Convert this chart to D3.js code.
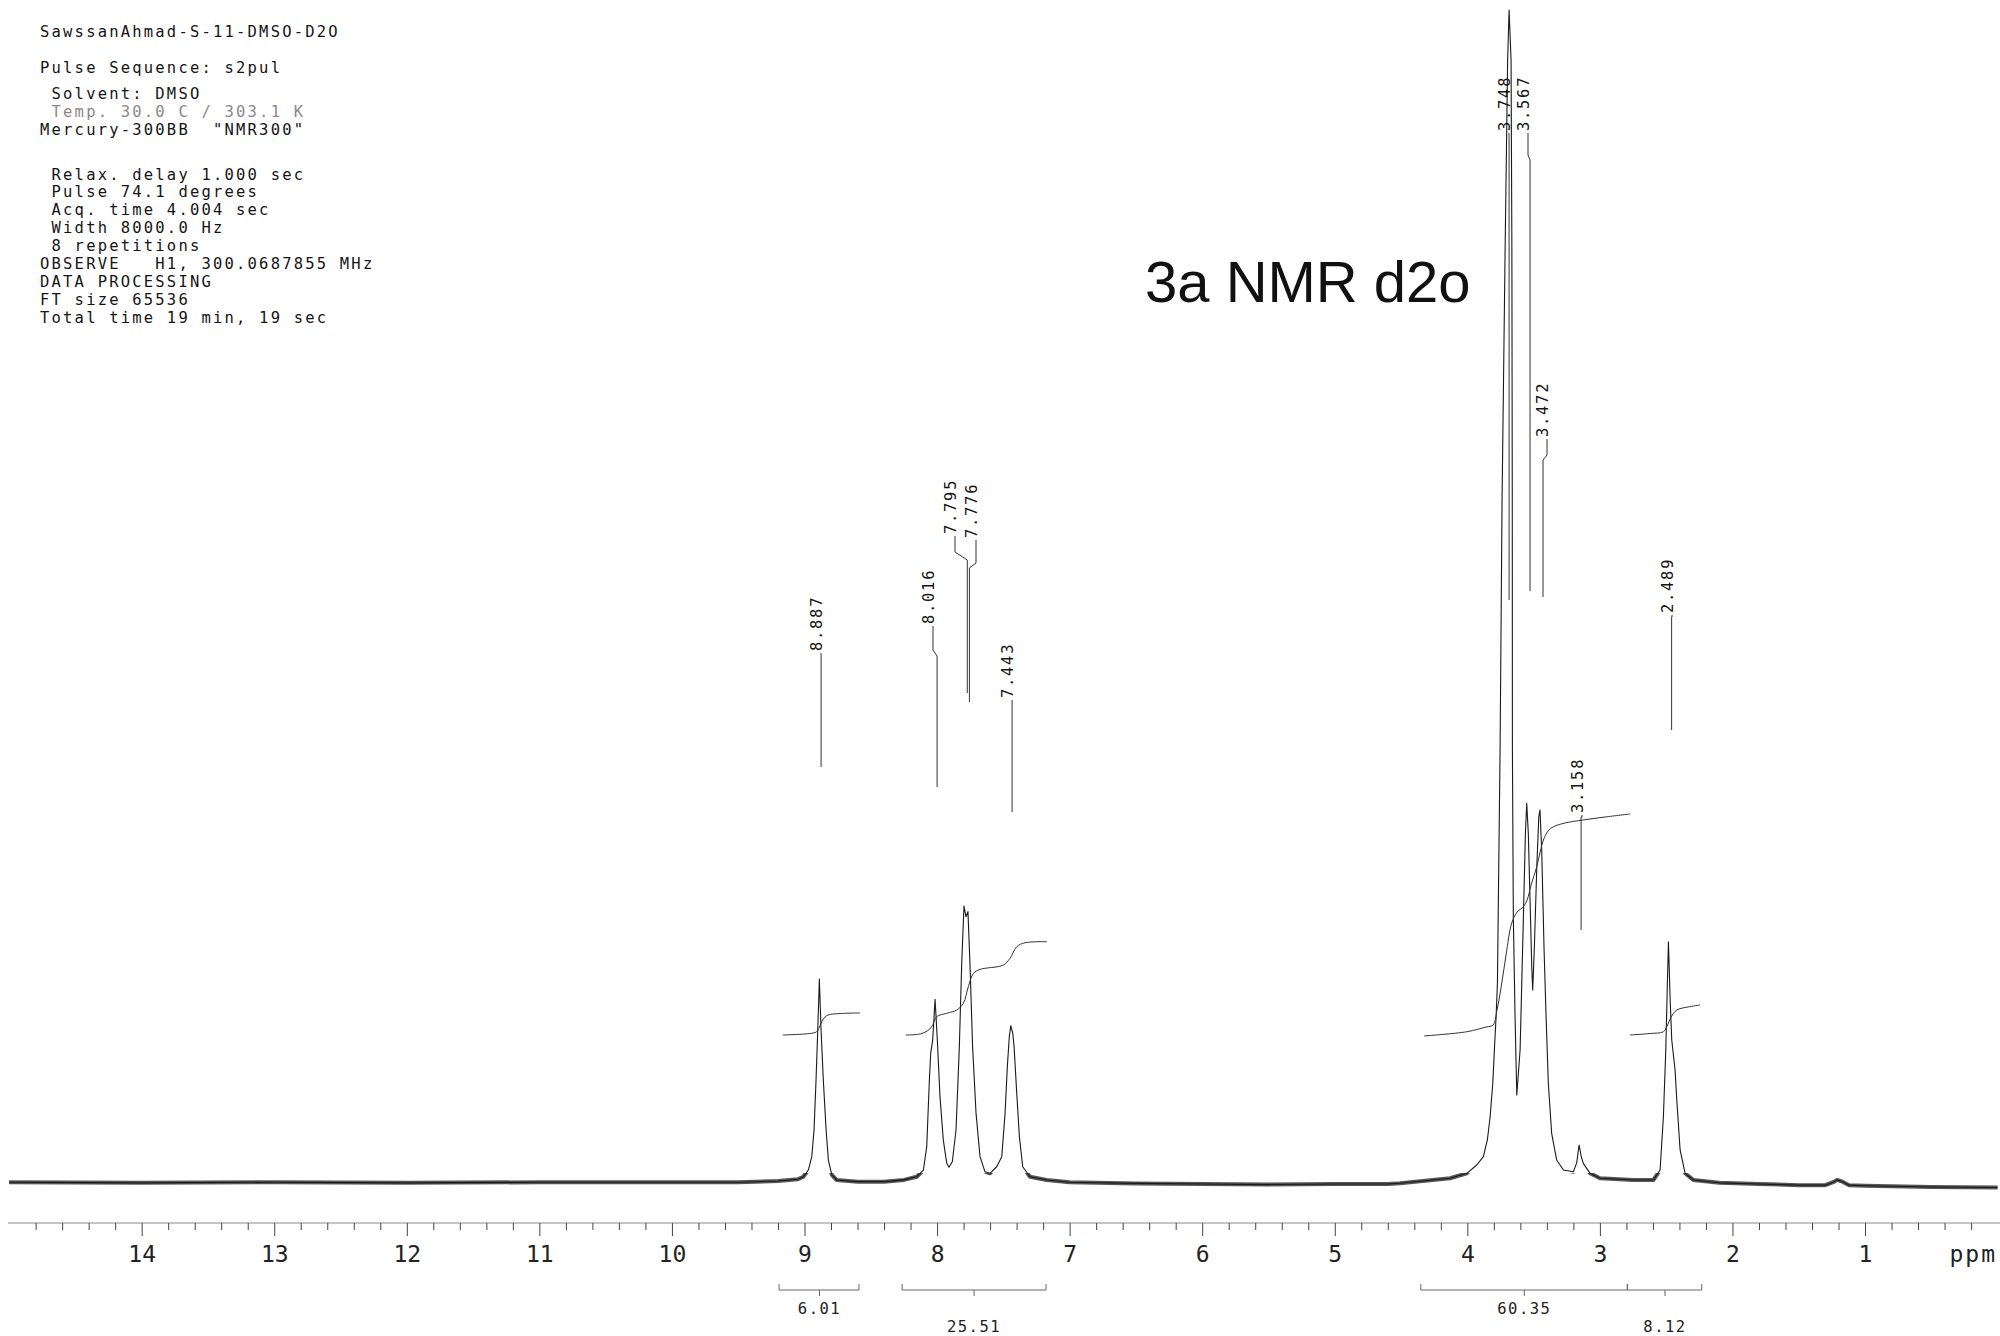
<!DOCTYPE html>
<html><head><meta charset="utf-8">
<script src="https://cdn.jsdelivr.net/npm/d3@7"></script>
<style>
html,body{margin:0;padding:0;background:#fff;}
svg{display:block;}
</style></head><body>
<svg id="chart" width="2000" height="1336"></svg>
<script>
// ---------------- DATA ----------------
const headerLines = [
  "SawssanAhmad-S-11-DMSO-D2O",
  "Pulse Sequence: s2pul",
  " Solvent: DMSO",
  " Temp. 30.0 C / 303.1 K",
  "Mercury-300BB  \"NMR300\"",
  " Relax. delay 1.000 sec",
  " Pulse 74.1 degrees",
  " Acq. time 4.004 sec",
  " Width 8000.0 Hz",
  " 8 repetitions",
  "OBSERVE   H1, 300.0687855 MHz",
  "DATA PROCESSING",
  "FT size 65536",
  "Total time 19 min, 19 sec"
];
const titleText = "3a NMR d2o";

// spectrum trace: chemical shift (ppm) and intensity (relative, tallest = 100)
const specPpm = [15.00,14.00,13.00,12.00,11.00,10.00,9.50,9.20,9.05,
  9.009,8.971,8.945,8.928,8.913,8.900,8.888,8.875,8.858,8.837,8.820,8.794,8.757,
  8.60,8.40,8.25,
  8.153,8.103,8.078,8.058,8.048,8.033,8.015,7.998,7.978,7.953,7.927,7.910,7.885,7.857,
  7.832,7.814,7.797,7.782,7.767,7.752,7.732,7.706,7.676,7.639,7.601,7.550,7.512,7.487,
  7.470,7.455,7.444,7.429,7.419,7.399,7.379,7.354,7.299,7.173,
  7.00,6.50,6.00,5.50,5.00,4.60,
  4.507,4.130,4.004,3.929,3.879,3.849,3.828,3.808,3.796,3.783,3.773,3.753,3.738,3.715,
  3.696,3.685,3.670,3.664,3.661,3.660,3.653,3.640,3.627,3.602,3.577,3.562,3.552,3.540,
  3.527,3.514,3.507,3.495,3.476,3.461,3.452,3.439,3.421,3.406,3.389,3.364,3.326,3.275,
  3.200,3.175,3.157,3.140,3.125,3.074,2.999,2.748,2.597,
  2.546,2.521,2.503,2.491,2.483,2.470,2.458,2.433,2.420,2.395,2.357,2.295,
  2.10,1.80,1.50,1.30,1.24,1.21,1.17,1.12,1.00,0.50,0.00];
const specInt = [0.15,0.10,0.15,0.10,0.15,0.15,0.15,0.25,0.40,
  0.62,1.19,2.33,4.60,8.86,13.10,17.46,13.10,8.86,4.60,2.04,0.77,0.34,
  0.20,0.20,0.35,
  0.62,1.19,3.18,8.86,11.13,12.27,15.73,12.27,7.44,3.75,1.76,1.42,1.90,4.60,
  11.70,18.80,23.68,22.77,23.20,18.80,11.70,6.02,2.33,1.05,0.91,1.47,2.33,6.02,
  10.00,12.55,13.48,12.84,11.70,7.73,4.03,1.47,0.62,0.34,
  0.15,0.05,0.00,-0.05,0.00,0.00,
  0.06,0.49,0.91,1.62,2.33,3.75,5.73,8.58,11.41,14.25,17.10,36.97,58.30,79.60,
  95.70,100.0,95.70,79.60,58.30,36.97,22.77,14.25,7.58,11.41,22.77,29.87,32.43,29.87,
  24.19,18.51,16.52,19.93,27.03,31.29,31.86,28.45,19.93,14.25,8.58,4.32,2.04,1.19,
  1.05,1.80,3.32,2.30,1.76,0.91,0.49,0.34,0.34,
  1.19,5.73,11.41,17.10,20.64,15.67,12.27,9.71,7.16,2.90,0.91,0.34,
  0.10,0.00,-0.10,-0.10,0.15,0.35,0.20,-0.10,-0.15,-0.25,-0.30];

// integral traces (ppm, level in the same intensity units)
const integral1Ppm = [9.164,8.996,8.935,8.908,8.887,8.868,8.845,8.822,8.732,8.581];
const integral1Val = [12.69,12.78,12.86,12.97,13.37,13.88,14.22,14.40,14.52,14.57];
const integral2Ppm = [8.236,8.128,8.075,8.040,8.003,7.927,7.852,7.802,7.764,7.726,7.676,7.500,7.450,7.399,7.336,7.173];
const integral2Val = [12.69,12.78,13.03,13.40,14.25,14.54,14.82,15.39,16.81,17.94,18.28,18.65,19.22,20.21,20.55,20.64];
const integral3Ppm = [4.326,4.004,3.859,3.806,3.776,3.740,3.708,3.665,3.624,3.577,3.549,3.519,3.476,3.451,3.426,3.391,3.351,3.263,3.125,2.961,2.772];
const integral3Val = [12.61,12.97,13.37,13.54,14.82,17.12,19.51,22.23,23.17,23.62,24.19,25.47,27.03,28.28,29.30,30.07,30.43,30.75,31.01,31.26,31.52];
const integral4Ppm = [2.772,2.621,2.521,2.493,2.463,2.420,2.335,2.244];
const integral4Val = [12.69,12.82,12.97,13.46,14.22,14.82,15.08,15.25];

// integral brackets
const integralValues = ["6.01","25.51","60.35","8.12"];
const integralFrom   = [9.192, 8.264, 4.351, 2.793];
const integralTo     = [8.589, 7.178, 2.793, 2.232];
const integralMid    = [8.887, 7.721, 3.570, 2.509];

// peak labels and the shift where each leader line meets the trace
const peakLabels = ["8.887","8.016","7.795","7.776","7.443","3.748","3.567","3.472","3.158","2.489"];
const leaderPpm  = [8.875, 8.000, 7.772, 7.756, 7.434, 3.685, 3.527, 3.429, 3.142, 2.459];

// axis tick labels
const axisTickLabels = [14,13,12,11,10,9,8,7,6,5,4,3,2,1];
const axisUnit = "ppm";

// ---------------- LAYOUT ----------------
const svg = d3.select("#chart");
const x = d3.scaleLinear().domain([15, 0]).range([9.1, 1997.6]);
const y = d3.scaleLinear().domain([0, 100]).range([1184, 10]);
const monoFont = "'DejaVu Sans Mono', 'Liberation Mono', monospace";

// header block
const headerBaselines = [37,73,99,117,135,180,197,215,233,251,269,287,305,323];
svg.append("g").selectAll("text").data(headerLines).join("text")
  .attr("x", 40).attr("y", (d,i) => headerBaselines[i])
  .style("white-space", "pre")
  .attr("font-family", monoFont).attr("font-size", 15.5)
  .attr("letter-spacing", 2.2)
  .attr("fill", (d,i) => i === 3 ? "#8a8a8a" : "#151515")
  .text(d => d);

// title
svg.append("text").attr("x", 1145).attr("y", 302)
  .attr("font-family", "'Liberation Sans', Arial, sans-serif")
  .attr("font-size", 58).attr("fill", "#111").text(titleText);

// spectrum
const specData = specPpm.map((p,i) => [p, specInt[i]]);
const line = d3.line().x(d => x(d[0])).y(d => y(d[1]));
svg.append("clipPath").attr("id","noiseClip")
  .append("rect").attr("x",0).attr("y",1173).attr("width",2000).attr("height",30);
svg.append("path").datum(specData).attr("d", line)
  .attr("fill","none").attr("stroke","#3a3a3a").attr("stroke-width",4)
  .attr("stroke-opacity",0.85)
  .attr("stroke-linejoin","round").attr("clip-path","url(#noiseClip)");
svg.append("path").datum(specData).attr("d", line)
  .attr("fill","none").attr("stroke","#1a1a1a").attr("stroke-width",1.1)
  .attr("stroke-linejoin","round");

// integral curves
const integrals = [
  [integral1Ppm, integral1Val],[integral2Ppm, integral2Val],
  [integral3Ppm, integral3Val],[integral4Ppm, integral4Val]];
integrals.forEach(([pp, vv]) => {
  const pts = pp.map((p,i) => [p, vv[i]]).sort((a,b) => b[0]-a[0]);
  svg.append("path").datum(pts).attr("d", d3.line().x(d => x(d[0])).y(d => y(d[1])).curve(d3.curveCatmullRom))
    .attr("fill","none").attr("stroke","#333").attr("stroke-width",1);
});

// peak labels with leader lines
const labelLayout = [
  {tx:821,  ty:651, k1:655, k2:655, bot:767},
  {tx:933,  ty:624, k1:650, k2:656, bot:787},
  {tx:955,  ty:534, k1:552, k2:560, bot:693},
  {tx:976,  ty:538, k1:563, k2:568, bot:702},
  {tx:1012, ty:698, k1:702, k2:702, bot:812},
  {tx:1509, ty:131, k1:135, k2:135, bot:600},
  {tx:1528, ty:131, k1:155, k2:160, bot:591},
  {tx:1547, ty:437, k1:455, k2:460, bot:597},
  {tx:1582, ty:813, k1:817, k2:817, bot:930},
  {tx:1672, ty:613, k1:617, k2:617, bot:730}
];
const gl = svg.append("g");
peakLabels.forEach((lab, i) => {
  const L = labelLayout[i];
  const xb = x(leaderPpm[i]);
  gl.append("path")
    .attr("d", `M${L.tx},${L.ty+2}V${L.k1}L${xb},${L.k2}V${L.bot}`)
    .attr("fill","none").attr("stroke","#333").attr("stroke-width",1);
  gl.append("text")
    .attr("transform", `translate(${L.tx+1},${L.ty}) rotate(-90)`)
    .attr("font-family", monoFont).attr("font-size", 15.5)
    .attr("letter-spacing", 1.7).attr("fill","#151515")
    .text(lab);
});

// axis
const axisY = 1223;
svg.append("line").attr("x1",8).attr("x2",2000).attr("y1",axisY).attr("y2",axisY)
  .attr("stroke","#8a8a8a").attr("stroke-width",1.2);
const minorVals = d3.range(1, 75).map(k => k/5).filter(v => Math.abs(v - Math.round(v)) > 1e-6);
const minorAxis = d3.axisBottom(x).tickValues(minorVals).tickSize(7).tickSizeOuter(0).tickFormat("");
const gMinor = svg.append("g").attr("transform",`translate(0,${axisY})`).call(minorAxis);
gMinor.select(".domain").remove();
gMinor.selectAll("line").attr("stroke","#444");
const majorAxis = d3.axisBottom(x).tickValues(axisTickLabels).tickSize(13).tickSizeOuter(0).tickFormat(d3.format("d"));
const gMajor = svg.append("g").attr("transform",`translate(0,${axisY})`).call(majorAxis);
gMajor.select(".domain").remove();
gMajor.selectAll("line").attr("stroke","#444");
gMajor.selectAll("text").attr("y",39).attr("dy",0)
  .attr("font-family", monoFont).attr("font-size",23).attr("fill","#222");
svg.append("text").attr("x",1997).attr("y",axisY+39).attr("text-anchor","end")
  .attr("font-family", monoFont).attr("font-size",23).attr("letter-spacing",2)
  .attr("fill","#222").text(axisUnit);

// integral brackets
const gb = svg.append("g");
integralValues.forEach((v,i) => {
  const x1 = x(integralFrom[i]), x2 = x(integralTo[i]), xm = x(integralMid[i]);
  gb.append("path").attr("d",`M${x1},1284V1290H${x2}V1284`)
    .attr("fill","none").attr("stroke","#666").attr("stroke-width",1);
  gb.append("path").attr("d",`M${xm},1290V1296`)
    .attr("fill","none").attr("stroke","#666").attr("stroke-width",1);
  gb.append("text").attr("x", xm).attr("y", i % 2 === 0 ? 1314 : 1332)
    .attr("text-anchor","middle")
    .attr("font-family", monoFont).attr("font-size",15.5).attr("letter-spacing",1.5)
    .attr("fill","#222").text(v);
});
</script>
</body></html>
